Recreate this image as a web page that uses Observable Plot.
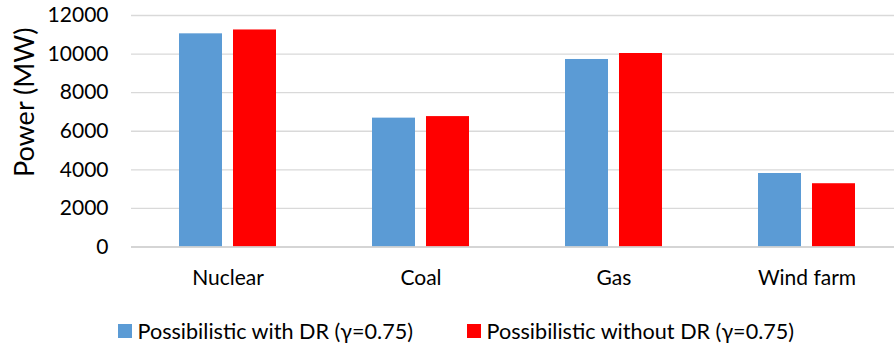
<!DOCTYPE html>
<html>
<head>
<meta charset="utf-8">
<script src="https://cdn.jsdelivr.net/npm/d3@7"></script>
<script src="https://cdn.jsdelivr.net/npm/@observablehq/plot@0.6"></script>
<style>
  html, body { margin: 0; padding: 0; background: #fff; overflow: hidden; }
  #wrap { width: 894px; height: 348px; position: relative; font-family: Lato, "Open Sans", sans-serif; }
  #legend { position: absolute; left: 118px; top: 319px; height: 24px; display: flex; align-items: center; font-size: 21.6px; color: #000; white-space: nowrap; }
  #legend .item { display: flex; align-items: center; margin-right: 54px; }
  #legend .swatch { width: 13.5px; height: 14px; margin-right: 6px; }
</style>
</head>
<body>
<div id="wrap"></div>
<script>
// Installed generating capacity by source, two scheduling cases
const categories = ["Nuclear", "Coal", "Gas", "Wind farm"];
const seriesNames = ["Possibilistic with DR (γ=0.75)", "Possibilistic without DR (γ=0.75)"];
const withDR = [11050, 6680, 9720, 3810];
const withoutDR = [11250, 6760, 10030, 3280];
const yTicks = [0, 2000, 4000, 6000, 8000, 10000, 12000];
const yTitle = "Power (MW)";
const colors = ["#5B9BD5", "#FF0000"];

const rows = [];
categories.forEach((c, i) => {
  rows.push({category: c, series: seriesNames[0], value: withDR[i]});
  rows.push({category: c, series: seriesNames[1], value: withoutDR[i]});
});

const chart = Plot.plot({
  width: 894,
  height: 305,
  marginTop: 15,
  marginBottom: 58.5,
  marginLeft: 130,
  marginRight: -9.6,
  style: {fontFamily: "Lato, 'Open Sans', sans-serif", fontSize: "21px", color: "#000", background: "#fff", overflow: "hidden"},
  fx: {domain: categories, padding: 0, label: null},
  x: {domain: seriesNames, paddingInner: 0.212, paddingOuter: 0.874, axis: null},
  y: {domain: [0, 12000], label: null},
  color: {domain: seriesNames, range: colors},
  marks: [
    Plot.gridY(yTicks, {stroke: "#d9d9d9", strokeOpacity: 1, strokeWidth: 1.3}),
    Plot.barY(rows, {fx: "category", x: "series", y: "value", fill: "series"}),
    Plot.ruleY([0], {stroke: "#d0d0d0", strokeWidth: 1.6}),
    Plot.axisY(yTicks, {tickSize: 0, tickPadding: 23, fontSize: 21, tickFormat: d => String(d), label: null}),
    Plot.axisFx({anchor: "bottom", tickSize: 0, tickPadding: 23.5, fontSize: 21, label: null}),
    // vertical axis title, drawn once for the whole frame
    Plot.text([yTitle], {facet: "super", frameAnchor: "left", rotate: -90, textAnchor: "middle", lineAnchor: "top", dx: -117, dy: -29, fontSize: 27, fill: "#000"})
  ]
});

const wrap = document.getElementById("wrap");
wrap.appendChild(chart);

const legend = document.createElement("div");
legend.id = "legend";
seriesNames.forEach((name, i) => {
  const item = document.createElement("div");
  item.className = "item";
  const sw = document.createElement("span");
  sw.className = "swatch";
  sw.style.background = colors[i];
  const label = document.createElement("span");
  label.textContent = name;
  item.appendChild(sw);
  item.appendChild(label);
  legend.appendChild(item);
});
wrap.appendChild(legend);
</script>
</body>
</html>
